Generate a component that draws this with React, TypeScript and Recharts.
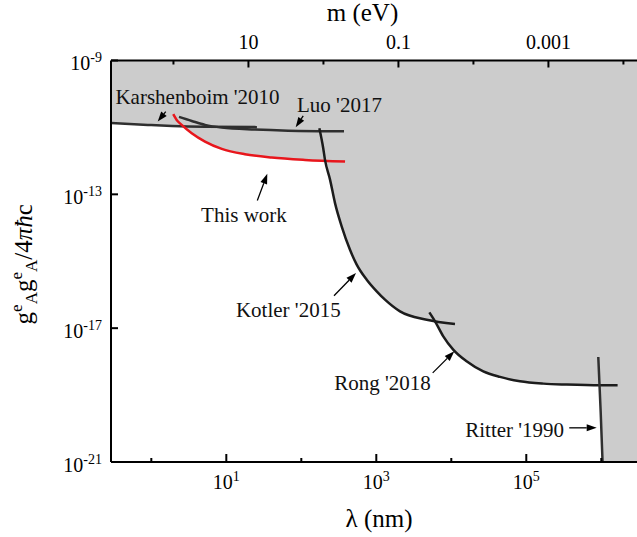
import React from "react";
import {
  ComposedChart,
  Area,
  Line,
  XAxis,
  YAxis,
  ReferenceLine,
  ReferenceDot,
} from "recharts";

// ħc in eV·nm, converts the reduced Compton wavelength to a mass
const HBAR_C = 197.327;

// Exclusion limits, λ in nm, coupling g^e_A g^e_A / 4πħc
const karshenboim = [
  { lambda: 0.29, g: 1.36e-11 },
  { lambda: 0.9, g: 1.19e-11 },
  { lambda: 1.89, g: 1.11e-11 },
  { lambda: 5.2, g: 1.05e-11 },
  { lambda: 25.6, g: 1.02e-11 },
];

const luo = [
  { lambda: 2.34, g: 2.06e-11 },
  { lambda: 3.46, g: 1.56e-11 },
  { lambda: 5.2, g: 1.19e-11 },
  { lambda: 8.7, g: 9.86e-12 },
  { lambda: 24.1, g: 8.6e-12 },
  { lambda: 67, g: 8.0e-12 },
  { lambda: 371, g: 7.7e-12 },
];

const thisWork = [
  { lambda: 1.96, g: 2.48e-11 },
  { lambda: 2.18, g: 1.67e-11 },
  { lambda: 2.54, g: 1.19e-11 },
  { lambda: 3.46, g: 6.7e-12 },
  { lambda: 5.2, g: 3.77e-12 },
  { lambda: 8.7, g: 2.28e-12 },
  { lambda: 17.7, g: 1.58e-12 },
  { lambda: 40.3, g: 1.26e-12 },
  { lambda: 112, g: 1.07e-12 },
  { lambda: 383, g: 9.5e-13 },
];

const kotler = [
  { lambda: 174, g: 9.46e-12 },
  { lambda: 196, g: 2.39e-12 },
  { lambda: 207, g: 1.07e-12 },
  { lambda: 242, g: 2.71e-13 },
  { lambda: 281, g: 5.57e-14 },
  { lambda: 346, g: 1.09e-14 },
  { lambda: 446, g: 2.2e-15 },
  { lambda: 548, g: 7.9e-16 },
  { lambda: 745, g: 2.8e-16 },
  { lambda: 1012, g: 1.26e-16 },
  { lambda: 1306, g: 7.1e-17 },
  { lambda: 2070, g: 3.17e-17 },
  { lambda: 4700, g: 1.79e-17 },
  { lambda: 11200, g: 1.33e-17 },
];

const rong = [
  { lambda: 5100, g: 2.96e-17 },
  { lambda: 6070, g: 1.6e-17 },
  { lambda: 7820, g: 5.7e-18 },
  { lambda: 10600, g: 2.28e-18 },
  { lambda: 16000, g: 1.02e-18 },
  { lambda: 26700, g: 5.1e-19 },
  { lambda: 44600, g: 3.49e-19 },
  { lambda: 82400, g: 2.58e-19 },
  { lambda: 168600, g: 2.2e-19 },
  { lambda: 345900, g: 2.06e-19 },
  { lambda: 961000, g: 1.96e-19 },
  { lambda: 1650000, g: 1.96e-19 },
];

const ritter = [
  { lambda: 912000, g: 1.38e-18 },
  { lambda: 982000, g: 3.07e-20 },
  { lambda: 1040000, g: 1e-21 },
];

const lambdaTicks = [1, 10, 100, 1e3, 1e4, 1e5, 1e6];
const massTicks = [100, 10, 1, 0.1, 0.01, 0.001, 0.0001];
const couplingTicks = [1e-21, 1e-17, 1e-13, 1e-9];

const LAMBDA_DOMAIN: [number, number] = [0.29, 4.07e6];
const G_DOMAIN: [number, number] = [1e-21, 1e-9];

// lower edge of the excluded (grey) region: best limit at each λ
const exclusionEdge = [
  ...karshenboim.filter((p) => p.lambda < 2.3),
  ...thisWork.filter((p) => p.lambda >= 2.3 && p.lambda < 200),
  ...kotler.filter((p) => p.lambda >= 200 && p.lambda < 5000),
  ...rong.filter((p) => p.lambda >= 5500 && p.lambda < 970000),
  ...ritter.filter((p) => p.lambda >= 970000),
  { lambda: LAMBDA_DOMAIN[1], g: G_DOMAIN[0] },
];

// text position and arrow (from -> to) for each label
const annotations = [
  { text: "Karshenboim '2010", at: [4.13, 5.03e-11], from: [1.556, 2.97e-11], to: [1.217, 1.49e-11] },
  { text: "Luo '2017", at: [323, 2.9e-11], from: [106, 2.2e-11], to: [84.2, 1.01e-11] },
  { text: "This work", at: [17.2, 1.48e-14], from: [25.9, 6.53e-14], to: [35.2, 4.09e-13] },
  { text: "Kotler '2015", at: [67.1, 2.16e-17], from: [273, 9.33e-17], to: [536, 4.45e-16] },
  { text: "Rong '2018", at: [1210, 1.46e-19], from: [5650, 4.6e-19], to: [10970, 2.03e-18] },
  { text: "Ritter '1990", at: [70000, 5.5e-21], from: [374000, 1.05e-20], to: [869000, 1.05e-20] },
];

const FONT = "'Liberation Serif', 'Times New Roman', serif";
const LINE_DARK = "#2f2f2f";
const LINE_BLACK = "#1c1c1c";

const power = (v: number) => Math.round(Math.log10(v));

const CouplingTick = (props: any) => {
  const { x, y, payload } = props;
  return (
    <g>
      <line x1={x} y1={y} x2={x + 7} y2={y} stroke="#000" strokeWidth={2} />
      <text x={x - 9} y={y + 9.5} textAnchor="end" style={{ fontFamily: FONT }} fontSize={20} fill="#000">
        10
        <tspan dy={-8} fontSize={14}>
          {power(payload.value)}
        </tspan>
      </text>
    </g>
  );
};

const LambdaTick = (props: any) => {
  const { x, y, payload } = props;
  const p = power(payload.value);
  const major = p % 2 !== 0;
  return (
    <g>
      <line x1={x} y1={y} x2={x} y2={y - (major ? 8 : 4)} stroke="#000" strokeWidth={2} />
      {major && (
        <text x={x} y={y + 27} textAnchor="middle" style={{ fontFamily: FONT }} fontSize={20} fill="#000">
          10
          <tspan dy={-8} fontSize={14}>
            {p}
          </tspan>
        </text>
      )}
    </g>
  );
};

const MassTick = (props: any) => {
  const { x, y, payload } = props;
  const p = power(HBAR_C / payload.value);
  const major = p % 2 !== 0;
  const label = p >= 0 ? String(10 ** p) : "0." + "0".repeat(-p - 1) + "1";
  return (
    <g>
      <line x1={x} y1={y} x2={x} y2={y + (major ? 7 : 4)} stroke="#000" strokeWidth={2} />
      {major && (
        <text x={x} y={y - 11.5} textAnchor="middle" style={{ fontFamily: FONT }} fontSize={20} fill="#000">
          {label}
        </text>
      )}
    </g>
  );
};

const Arrow = (props: any) => {
  const { x1, y1, x2, y2 } = props;
  const a = Math.atan2(y2 - y1, x2 - x1);
  const len = 10;
  const half = 3.5;
  const bx = x2 - len * Math.cos(a);
  const by = y2 - len * Math.sin(a);
  const pts = [
    `${x2},${y2}`,
    `${bx + half * Math.sin(a)},${by - half * Math.cos(a)}`,
    `${bx - half * Math.sin(a)},${by + half * Math.cos(a)}`,
  ].join(" ");
  return (
    <g>
      <line x1={x1} y1={y1} x2={bx} y2={by} stroke="#000" strokeWidth={1.3} />
      <polygon points={pts} fill="#000" />
    </g>
  );
};

const bottomTitle = (props: any) => {
  const { x, y, width } = props.viewBox;
  return (
    <text x={x + width / 2} y={y + 65} textAnchor="middle" style={{ fontFamily: FONT }} fontSize={25} fill="#000">
      λ (nm)
    </text>
  );
};

const topTitle = (props: any) => {
  const { x, y, width, height } = props.viewBox;
  return (
    <text x={x + width / 2 - 16.5} y={y + height - 39.5} textAnchor="middle" style={{ fontFamily: FONT }} fontSize={25} fill="#000">
      m (eV)
    </text>
  );
};

const leftTitle = (props: any) => {
  const { x, y, width, height } = props.viewBox;
  const cx = x + width - 79;
  const cy = y + height / 2 + 3;
  return (
    <text
      transform={`translate(${cx},${cy}) rotate(-90)`}
      textAnchor="middle"
      style={{ fontFamily: FONT }}
      fontSize={25}
      fill="#000"
    >
      g
      <tspan dy={-10} fontSize={17}>e</tspan>
      <tspan dy={15} fontSize={17}>A</tspan>
      <tspan dy={-5}>g</tspan>
      <tspan dy={-10} fontSize={17}>e</tspan>
      <tspan dy={15} fontSize={17}>A</tspan>
      <tspan dy={-5}>/4</tspan>
      <tspan fontStyle="italic">πħ</tspan>
      <tspan>c</tspan>
    </text>
  );
};

export default function App() {
  return (
    <div
      style={{
        position: "fixed",
        left: 0,
        top: 0,
        width: 637,
        height: 537,
        overflow: "hidden",
        background: "#fff",
      }}
    >
      <ComposedChart width={700} height={537} margin={{ top: 30.5, right: 53, bottom: 35, left: 51 }}>
        <Area
          data={exclusionEdge}
          dataKey="g"
          type="monotone"
          baseValue={G_DOMAIN[1]}
          fill="#cccccc"
          fillOpacity={1}
          stroke="none"
          dot={false}
          activeDot={false}
          isAnimationActive={false}
        />
        <Line data={karshenboim} dataKey="g" type="monotone" stroke={LINE_DARK} strokeWidth={2.5} dot={false} activeDot={false} isAnimationActive={false} />
        <Line data={luo} dataKey="g" type="monotone" stroke={LINE_DARK} strokeWidth={2.5} dot={false} activeDot={false} isAnimationActive={false} />
        <Line data={thisWork} dataKey="g" type="monotone" stroke="#e8161c" strokeWidth={2.5} dot={false} activeDot={false} isAnimationActive={false} />
        <Line data={kotler} dataKey="g" type="monotone" stroke={LINE_BLACK} strokeWidth={2.5} dot={false} activeDot={false} isAnimationActive={false} />
        <Line data={rong} dataKey="g" type="monotone" stroke={LINE_BLACK} strokeWidth={2.5} dot={false} activeDot={false} isAnimationActive={false} />
        <Line data={ritter} dataKey="g" type="linear" stroke={LINE_DARK} strokeWidth={2.5} dot={false} activeDot={false} isAnimationActive={false} />

        {annotations.map((a) => (
          <ReferenceLine
            key={a.text + "-arrow"}
            segment={[
              { x: a.from[0], y: a.from[1] },
              { x: a.to[0], y: a.to[1] },
            ]}
            ifOverflow="visible"
            shape={Arrow}
          />
        ))}
        {annotations.map((a) => (
          <ReferenceDot
            key={a.text}
            x={a.at[0]}
            y={a.at[1]}
            r={1}
            ifOverflow="visible"
            shape={(p: any) => (
              <text x={p.cx} y={p.cy} textAnchor="middle" style={{ fontFamily: FONT }} fontSize={21} fill="#111">
                {a.text}
              </text>
            )}
          />
        ))}

        <XAxis
          dataKey="lambda"
          type="number"
          scale="log"
          domain={LAMBDA_DOMAIN}
          allowDataOverflow
          ticks={lambdaTicks}
          interval={0}
          tickSize={0}
          tickMargin={0}
          tick={LambdaTick}
          height={40}
          axisLine={{ stroke: "#000", strokeWidth: 2 }}
          label={bottomTitle}
        />
        <XAxis
          xAxisId="top"
          orientation="top"
          dataKey="lambda"
          type="number"
          scale="log"
          domain={LAMBDA_DOMAIN}
          allowDataOverflow
          ticks={massTicks.map((m) => HBAR_C / m)}
          interval={0}
          tickSize={0}
          tickMargin={0}
          tick={MassTick}
          height={30}
          axisLine={{ stroke: "#000", strokeWidth: 2 }}
          label={topTitle}
        />
        <YAxis
          type="number"
          scale="log"
          domain={G_DOMAIN}
          allowDataOverflow
          ticks={couplingTicks}
          interval={0}
          tickSize={0}
          tickMargin={0}
          tick={CouplingTick}
          width={60}
          axisLine={{ stroke: "#000", strokeWidth: 2 }}
          label={leftTitle}
        />
      </ComposedChart>
    </div>
  );
}
